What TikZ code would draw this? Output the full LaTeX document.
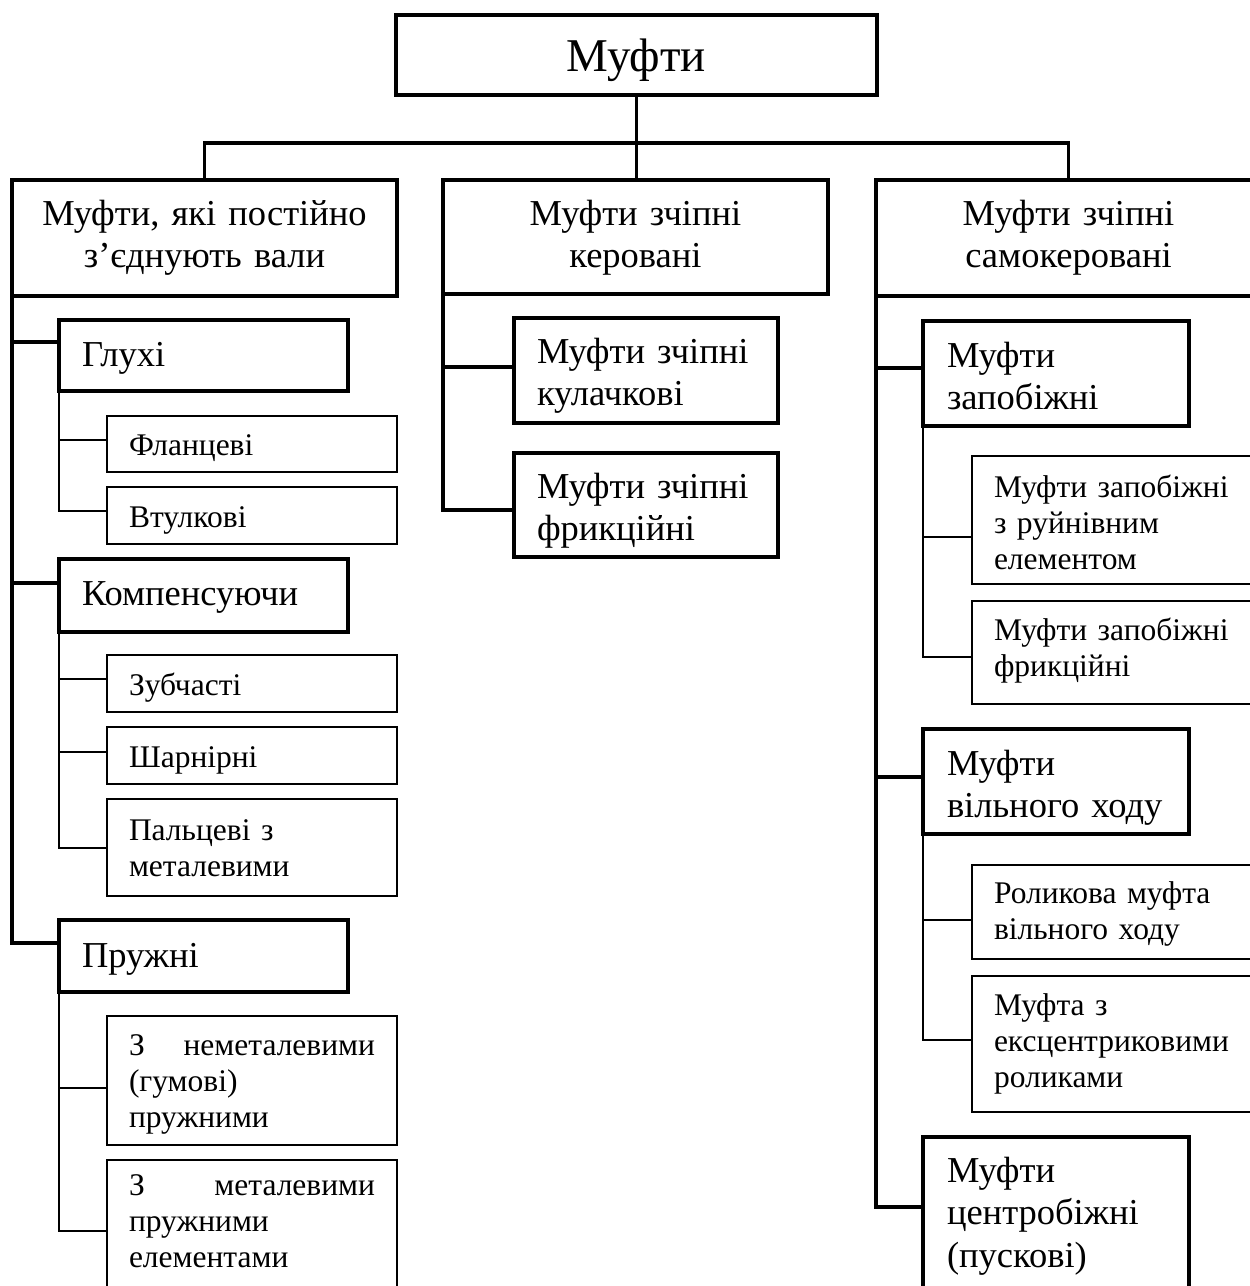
\documentclass[tikz,border=0pt]{standalone}
\usepackage{fontspec}
\setmainfont{Liberation Serif}
\begin{document}
\begin{tikzpicture}[x=1pt,y=-1pt,
  box/.style={draw, rectangle, anchor=north west, outer sep=0pt, inner ysep=0pt, line join=miter},
  hd/.style 2 args={text height=#1pt, text depth=#2pt},
  titlebox/.style={box, line width=3.6pt, inner xsep=0pt, align=center,
    font=\fontsize{47}{54}\selectfont},
  topbox/.style={box, line width=3.2pt, inner xsep=0pt, align=center, text width=385pt,
    font=\fontsize{36.5}{42.5}\selectfont},
  groupbox/.style={box, line width=3.2pt, inner xsep=23pt, align=left,
    font=\fontsize{36.5}{42.5}\selectfont},
  leafbox/.style={box, line width=2.3pt, inner xsep=22pt, align=left, text width=246pt,
    font=\fontsize{31.5}{36}\selectfont},
  heavy/.style={line width=3.2pt, line join=miter},
  light/.style={line width=2.2pt, line join=miter}
]
\useasboundingbox (0,0) rectangle (1250,1286);
\clip (0,0) rectangle (1250,1286);

% root
\node[titlebox, text width=481pt, hd={56}{24}] (root) at (396,15) {Муфти};

% first level
\node[topbox, hd={45}{71}] (perm) at (12,180) {Муфти,~які~постійно\\з’єднують~вали};
\node[topbox, hd={45}{69}] (ctrl) at (443,180) {Муфти~зчіпні\\керовані};
\node[topbox, hd={45}{71}] (self) at (876,180) {Муфти~зчіпні\\самокеровані};

% permanent couplings
\node[groupbox, text width=243pt, hd={46}{25}] (rigid) at (59,320) {Глухі};
\node[leafbox, hd={39}{17}] (flange) at (107,416) {Фланцеві};
\node[leafbox, hd={40}{17}] (sleeve) at (107,487) {Втулкові};
\node[groupbox, text width=243pt, hd={46}{27}] (comp) at (59,559) {Компенсуючи};
\node[leafbox, hd={40}{17}] (gear) at (107,655) {Зубчасті};
\node[leafbox, hd={40}{17}] (hinge) at (107,727) {Шарнірні};
\node[leafbox, hd={41}{56}] (pin) at (107,799) {Пальцеві~з\\металевими};
\node[groupbox, text width=243pt, hd={47}{25}] (elastic) at (59,920) {Пружні};
\node[leafbox, hd={39}{90}] (rubber) at (107,1016) {З\hfill неметалевими\\(гумові)\\пружними};
\node[leafbox, hd={35}{94}] (metal) at (107,1160) {З\hfill металевими\\пружними\\елементами};

% controlled clutches
\node[groupbox, text width=218pt, hd={45}{60}] (jaw) at (514,318) {Муфти~зчіпні\\кулачкові};
\node[groupbox, text width=218pt, hd={45}{59}] (fric) at (514,453) {Муфти~зчіпні\\фрикційні};

% self-acting clutches
\node[groupbox, inner xsep=24pt, text width=218pt, hd={46}{59}] (safety) at (923,321) {Муфти\\запобіжні};
\node[leafbox, hd={41}{87}] (shear) at (972,456) {Муфти~запобіжні\\з~руйнівним\\елементом};
\node[leafbox, hd={39}{64}] (sfric) at (972,601) {Муфти~запобіжні\\фрикційні};
\node[groupbox, inner xsep=24pt, text width=218pt, hd={46}{59}] (free) at (923,729) {Муфти\\вільного~ходу};
\node[leafbox, hd={38}{56}] (roller) at (972,865) {Роликова~муфта\\вільного~ходу};
\node[leafbox, hd={39}{97}] (ecc) at (972,976) {Муфта~з\\ексцентриковими\\роликами};
\node[groupbox, inner xsep=24pt, text width=218pt, hd={45}{113}] (centr) at (923,1137) {Муфти\\центробіжні\\(пускові)};

% tree from the root
\coordinate (bus) at (636.5,143);
\draw[heavy] (root.south) -- (root.south |- ctrl.north);
\draw[heavy] (perm.north) |- (bus) -| (self.north);

% branches of the permanent couplings
\draw[heavy] (perm.south west) |- ([yshift=-22pt]rigid.north west);
\draw[heavy] (perm.south west) |- ([yshift=-24pt]comp.north west);
\draw[heavy] (perm.south west) |- ([yshift=-23pt]elastic.north west);
\draw[light] (rigid.south west) |- ([yshift=-24pt]flange.north west);
\draw[light] (rigid.south west) |- ([yshift=-24pt]sleeve.north west);
\draw[light] (comp.south west) |- ([yshift=-24pt]gear.north west);
\draw[light] (comp.south west) |- ([yshift=-25pt]hinge.north west);
\draw[light] (comp.south west) |- ([yshift=-49pt]pin.north west);
\draw[light] (elastic.south west) |- ([yshift=-72pt]rubber.north west);
\draw[light] (elastic.south west) |- ([yshift=-71pt]metal.north west);

% branches of the controlled clutches
\draw[heavy] (ctrl.south west) |- ([yshift=-49pt]jaw.north west);
\draw[heavy] (ctrl.south west) |- ([yshift=-57pt]fric.north west);

% branches of the self-acting clutches
\draw[heavy] (self.south west) |- ([yshift=-47pt]safety.north west);
\draw[heavy] (self.south west) |- ([yshift=-48pt]free.north west);
\draw[heavy] (self.south west) |- ([yshift=-70pt]centr.north west);
\draw[light] (safety.south west) |- ([yshift=-81pt]shear.north west);
\draw[light] (safety.south west) |- ([yshift=-56pt]sfric.north west);
\draw[light] (free.south west) |- ([yshift=-55pt]roller.north west);
\draw[light] (free.south west) |- ([yshift=-64pt]ecc.north west);
\end{tikzpicture}
\end{document}
